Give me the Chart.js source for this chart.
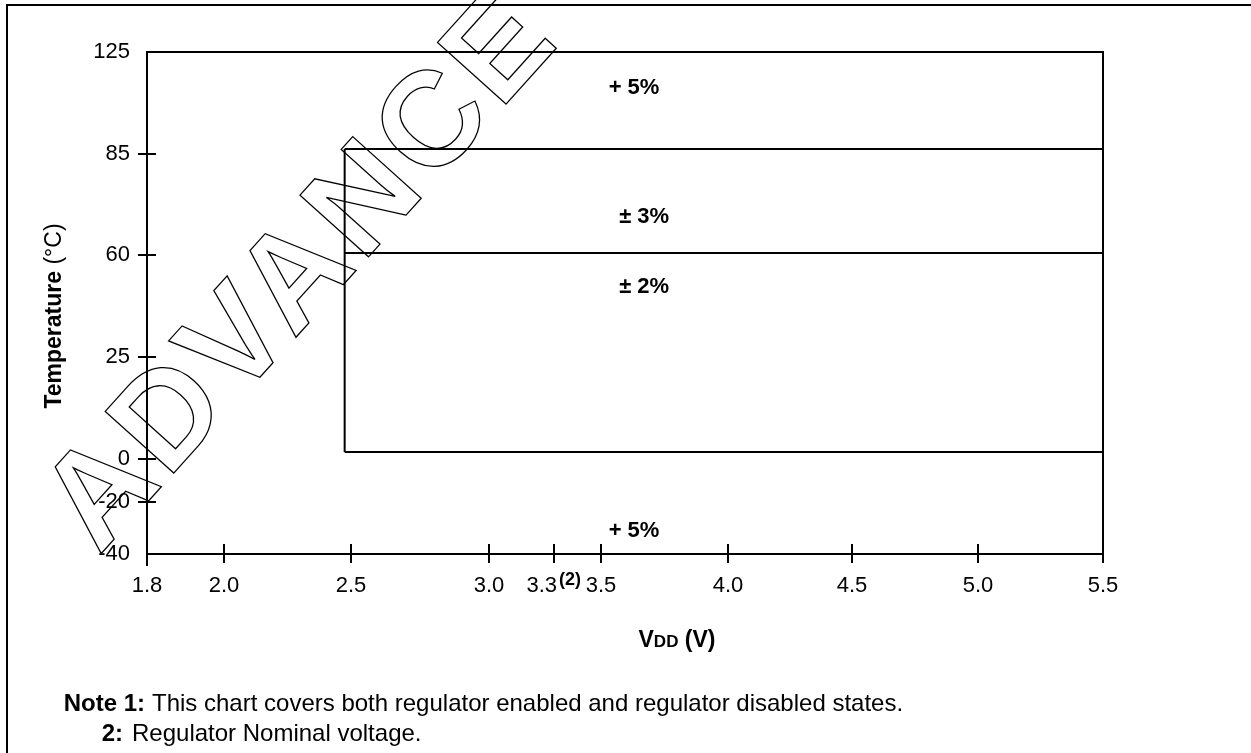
<!DOCTYPE html>
<html>
<head>
<meta charset="utf-8">
<script src="https://cdn.jsdelivr.net/npm/chart.js@4.4.0/dist/chart.umd.min.js"></script>
<style>
  html, body { margin:0; padding:0; background:#fff; }
  body { width:1251px; height:753px; position:relative; overflow:hidden;
         font-family:"Liberation Sans", Arial, Helvetica, sans-serif; color:#000; }
  #chart { position:absolute; left:0; top:0; }
  .frame { position:absolute; left:6px; top:4px; right:-2px; bottom:-2px;
           border-left:2px solid #000; border-top:2px solid #000; pointer-events:none; }
  .ytitle { position:absolute; left:53px; top:316px; white-space:nowrap; font-size:23px;
            transform:translate(-50%,-50%) rotate(-90deg); }
  .xtitle { position:absolute; left:677px; top:639px; white-space:nowrap; font-size:23px;
            font-weight:bold; transform:translate(-50%,-50%); }
  .xtitle small { font-size:17px; }
  .note { position:absolute; white-space:nowrap; font-size:24px; line-height:28px; }
  .note b { font-weight:bold; }
  #mark { position:absolute; left:0; top:0; pointer-events:none; }
</style>
</head>
<body>
<canvas id="chart" width="1251" height="753"></canvas>
<div class="frame"></div>

<div class="ytitle"><b>Temperature</b> (°C)</div>
<div class="xtitle">V<small>DD</small> (V)</div>

<div class="note" style="right:1106px; top:689px;"><b>Note 1:</b></div>
<div class="note" style="left:152px; top:689px;">This chart covers both regulator enabled and regulator disabled states.</div>
<div class="note" style="right:1128px; top:719px;"><b>2:</b></div>
<div class="note" style="left:132px; top:719px;">Regulator Nominal voltage.</div>

<svg id="mark" width="1251" height="753">
  <text x="99" y="556" transform="rotate(-48 99 556)" fill="none" stroke="#000" stroke-width="1.3"
        letter-spacing="6" font-family="Liberation Sans, Arial, sans-serif" font-weight="bold"
        font-size="134">ADVANCE</text>
</svg>

<script>
// Данные графика
const xTicks = [1.8, 2.0, 2.5, 3.0, 3.3, 3.5, 4.0, 4.5, 5.0, 5.5];
const xTickLabels = ['1.8', '2.0', '2.5', '3.0', '3.3', '3.5', '4.0', '4.5', '5.0', '5.5'];
const xTickNotes  = ['', '', '', '', '(2)', '', '', '', '', ''];
const yTicks = [-40, -20, 0, 25, 60, 85, 125];

// границы зон точности
const zoneVdd   = [2.475, 5.5];     // левая и правая граница
const zoneTemps = [87, 60.5, 1.7];  // верх, середина, низ

const zoneLabels    = ['+ 5%', '± 3%', '± 2%', '+ 5%'];
const zoneLabelVdd  = [3.63, 3.67, 3.67, 3.63];
const zoneLabelTemp = [111, 69.5, 49, -31];

const FONT = '"Liberation Sans", Arial, Helvetica, sans-serif';

// неравномерные оси: доля длины оси для каждого значения тика
const axisBreaks = {
  x: { values: xTicks, fracs: [0, 0.0805, 0.2134, 0.3577, 0.4257, 0.4749, 0.6077, 0.7374, 0.8692, 1] },
  y: { values: yTicks, fracs: [0, 0.1036, 0.1892, 0.3924, 0.5956, 0.7968, 1] }
};

class BreakScale extends Chart.LinearScale {
  static id = 'breaks';
  static defaults = Chart.LinearScale.defaults;

  getPixelForValue(value) {
    const { values: v, fracs: f } = axisBreaks[this.id];
    let i = 0;
    while (i < v.length - 2 && value > v[i + 1]) i++;
    const t = (value - v[i]) / (v[i + 1] - v[i]);
    return this.getPixelForDecimal(f[i] + t * (f[i + 1] - f[i]));
  }

  getValueForPixel(pixel) {
    const { values: v, fracs: f } = axisBreaks[this.id];
    const d = this.getDecimalForPixel(pixel);
    let i = 0;
    while (i < f.length - 2 && d > f[i + 1]) i++;
    const t = (d - f[i]) / (f[i + 1] - f[i]);
    return v[i] + t * (v[i + 1] - v[i]);
  }
}
Chart.register(BreakScale);

const xMin = xTicks[0], xMax = xTicks[xTicks.length - 1];
const yMin = yTicks[0], yMax = yTicks[yTicks.length - 1];

function seg(points) {
  return {
    data: points,
    showLine: true,
    borderColor: '#000',
    borderWidth: 2,
    pointRadius: 0,
    clip: false
  };
}

const datasets = [
  // верх и правая сторона поля графика
  seg([{ x: xMin, y: yMax }, { x: xMax, y: yMax }, { x: xMax, y: yMin }]),
  // левая граница зон
  seg([{ x: zoneVdd[0], y: zoneTemps[2] }, { x: zoneVdd[0], y: zoneTemps[0] }]),
  ...zoneTemps.map(t => seg([{ x: zoneVdd[0], y: t }, { x: zoneVdd[1], y: t }]))
];

// засечки, пересекающие оси, подписи зон и сноска (2)
const marksPlugin = {
  id: 'marks',
  afterDatasetsDraw(chart) {
    const { ctx, scales: { x, y } } = chart;
    ctx.save();
    ctx.strokeStyle = '#000';
    ctx.lineWidth = 2;

    xTicks.forEach((v, i) => {
      const px = Math.round(x.getPixelForValue(v));
      ctx.beginPath();
      ctx.moveTo(px, y.bottom - 10);
      ctx.lineTo(px, y.bottom + (i === 0 ? 12 : 9));
      ctx.stroke();
    });
    yTicks.slice(1, -1).forEach(v => {
      const py = Math.round(y.getPixelForValue(v));
      ctx.beginPath();
      ctx.moveTo(x.left - 9, py);
      ctx.lineTo(x.left + 9, py);
      ctx.stroke();
    });

    ctx.fillStyle = '#000';
    ctx.textAlign = 'center';
    ctx.textBaseline = 'middle';
    ctx.font = 'bold 22px ' + FONT;
    zoneLabels.forEach((txt, i) => {
      ctx.fillText(txt, x.getPixelForValue(zoneLabelVdd[i]), y.getPixelForValue(zoneLabelTemp[i]));
    });

    ctx.textAlign = 'left';
    ctx.font = 'bold 18px ' + FONT;
    xTickNotes.forEach((n, i) => {
      if (!n) return;
      ctx.fillText(n, x.getPixelForValue(xTicks[i]) + 5, y.bottom + 26);
    });
    ctx.restore();
  }
};

new Chart(document.getElementById('chart'), {
  type: 'scatter',
  data: { datasets },
  plugins: [marksPlugin],
  options: {
    responsive: false,
    animation: false,
    events: [],
    layout: { padding: { left: 0, right: 148, top: 52, bottom: 0 } },
    plugins: { legend: { display: false }, tooltip: { enabled: false } },
    scales: {
      x: {
        type: 'breaks',
        min: xMin,
        max: xMax,
        afterBuildTicks: s => { s.ticks = xTicks.map(v => ({ value: v })); },
        afterFit: s => { s.height = 199; },
        grid: { display: false, drawTicks: false },
        border: { display: true, color: '#000', width: 2 },
        ticks: {
          autoSkip: false,
          maxRotation: 0,
          padding: 19,
          color: '#000',
          font: { size: 22, family: FONT },
          // у 3.3 справа место под сноску (2)
          callback: (v, i) => xTickLabels[i] + (xTickNotes[i] ? '    ' : '')
        }
      },
      y: {
        type: 'breaks',
        min: yMin,
        max: yMax,
        afterBuildTicks: s => { s.ticks = yTicks.map(v => ({ value: v })); },
        afterFit: s => { s.width = 147; },
        grid: { display: false, drawTicks: false },
        border: { display: true, color: '#000', width: 2 },
        ticks: {
          autoSkip: false,
          padding: 17,
          color: '#000',
          font: { size: 22, family: FONT },
          callback: v => String(v)
        }
      }
    }
  }
});
</script>
</body>
</html>
